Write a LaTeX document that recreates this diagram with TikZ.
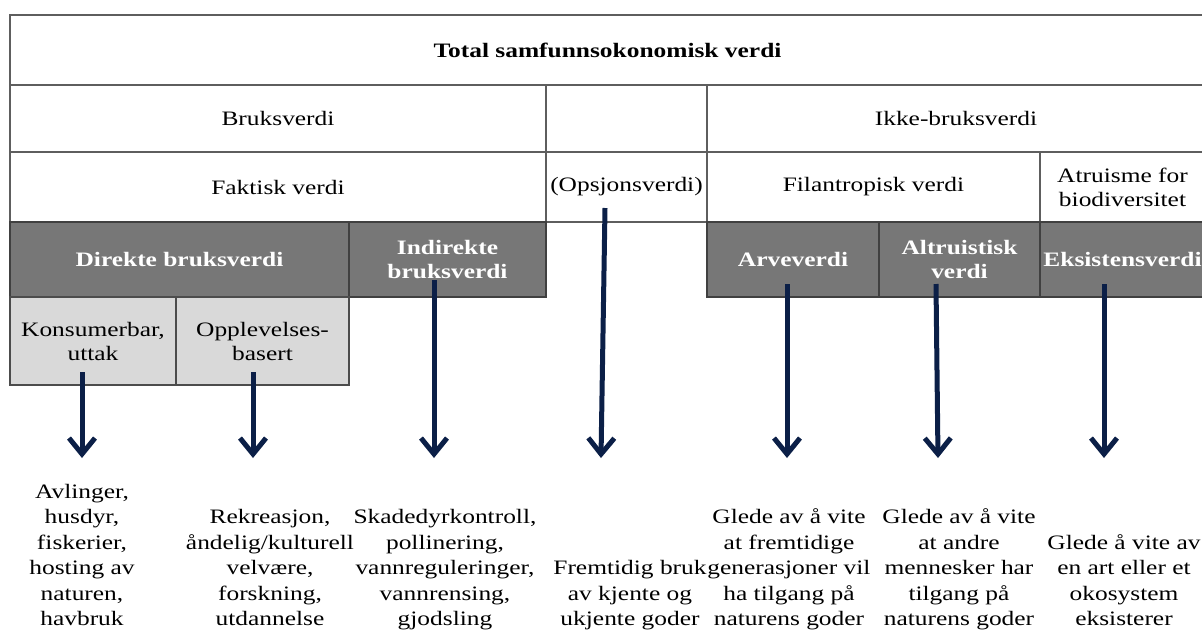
\documentclass[tikz,border=0pt]{standalone}
\usepackage{fontspec}
\setmainfont{Liberation Serif}[FakeStretch=1.24]
\usetikzlibrary{arrows.meta}
\definecolor{navy}{HTML}{0B1F47}
\definecolor{darkcell}{HTML}{777777}
\definecolor{lightcell}{HTML}{D9D9D9}
\definecolor{rulegray}{HTML}{5E5E5E}
\tikzset{
  cell/.style={draw=rulegray, line width=1.6pt, inner sep=0pt, align=center,
    font=\fontsize{20.5}{24}\selectfont},
  darkbox/.style={cell, draw=black!75, fill=darkcell, text=white,
    font=\fontsize{20.5}{24}\selectfont\bfseries},
  lightbox/.style={cell, draw=black!70, fill=lightcell},
  desc/.style={align=center, inner sep=0pt, anchor=south,
    font=\fontsize{20.5}{25.5}\selectfont},
  flow/.style={draw=navy, line width=5pt,
    -{Straight Barb[length=16pt,width=26pt]}},
}
\begin{document}
\begin{tikzpicture}[x=1pt,y=-1pt]
\useasboundingbox (0,0) rectangle (1202,630);
% table
\node[cell, minimum width=1195, minimum height=70, font=\fontsize{20.5}{24}\selectfont\bfseries] (total) at (607.5,50) {Total samfunnsokonomisk verdi};
\node[cell, minimum width=536, minimum height=67] (bruk) at (278,118.5) {Bruksverdi};
\node[cell, minimum width=161, minimum height=67] (opstop) at (626.5,118.5) {};
\node[cell, minimum width=498, minimum height=67] (ikke) at (956,118.5) {Ikke-bruksverdi};
\node[cell, minimum width=536, minimum height=70] (faktisk) at (278,187) {Faktisk verdi};
\node[cell, minimum width=161, minimum height=70] (opsjon) at (626.5,187) {(Opsjonsverdi)};
\node[cell, minimum width=333, minimum height=70] (filan) at (873.5,187) {Filantropisk verdi};
\node[cell, minimum width=165, minimum height=70] (atru) at (1122.5,187) {Atruisme for\\biodiversitet};
\node[darkbox, minimum width=339, minimum height=75] (direkte) at (179.5,259.5) {Direkte bruksverdi};
\node[darkbox, minimum width=197, minimum height=75] (indirekte) at (447.5,259.5) {Indirekte\\bruksverdi};
\node[darkbox, minimum width=172, minimum height=75] (arv) at (793,259.5) {Arveverdi};
\node[darkbox, minimum width=161, minimum height=75] (altru) at (959.5,259.5) {Altruistisk\\verdi};
\node[darkbox, minimum width=165, minimum height=75] (eksist) at (1122.5,259.5) {Eksistensverdi};
\node[lightbox, minimum width=166, minimum height=88] (konsum) at (93,341) {Konsumerbar,\\uttak};
\node[lightbox, minimum width=173, minimum height=88] (opplev) at (262.5,341) {Opplevelses-\\basert};
% descriptions
\node[desc] (d1) at (82,633.6) {Avlinger,\\husdyr,\\fiskerier,\\hosting av\\naturen,\\havbruk\strut};
\node[desc] (d2) at (270,633.6) {Rekreasjon,\\åndelig/kulturell\\velvære,\\forskning,\\utdannelse\strut};
\node[desc] (d3) at (445,633.6) {Skadedyrkontroll,\\pollinering,\\vannreguleringer,\\vannrensing,\\gjodsling\strut};
\node[desc] (d4) at (630,633.6) {Fremtidig bruk\\av kjente og\\ukjente goder\strut};
\node[desc] (d5) at (789,633.6) {Glede av å vite\\at fremtidige\\generasjoner vil\\ha tilgang på\\naturens goder\strut};
\node[desc] (d6) at (959,633.6) {Glede av å vite\\at andre\\mennesker har\\tilgang på\\naturens goder\strut};
\node[desc] (d7) at (1124,633.6) {Glede å vite av\\en art eller et\\okosystem\\eksisterer\strut};
% arrows
\coordinate (s1) at (82,372);   \coordinate (e1) at (82,458);
\coordinate (s2) at (253,372);  \coordinate (e2) at (253,458);
\coordinate (s3) at (434,280);  \coordinate (e3) at (434,458);
\coordinate (s4) at (605,208);  \coordinate (e4) at (601,458);
\coordinate (s5) at (787,284);  \coordinate (e5) at (787,458);
\coordinate (s6) at (936,284);  \coordinate (e6) at (938,458);
\coordinate (s7) at (1104,284); \coordinate (e7) at (1104,458);
\foreach \i in {1,...,7} {\draw[flow] (s\i) -- (e\i);}
\end{tikzpicture}
\end{document}
